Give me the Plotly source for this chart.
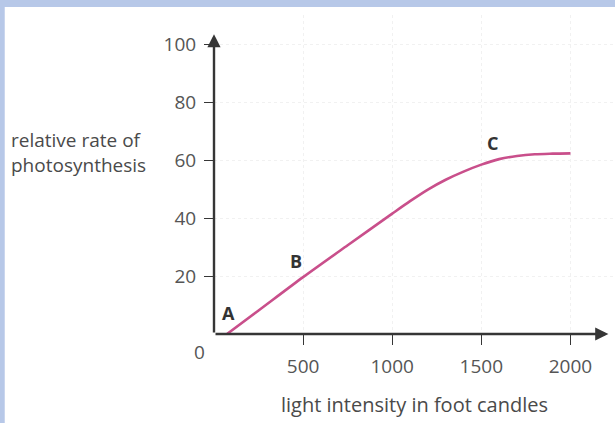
import plotly.graph_objects as go

# data
light = [73, 250, 500, 750, 1000, 1100, 1200, 1300, 1400, 1500, 1600, 1700, 1800, 1900, 2000]
rate = [0, 8.1, 19.6, 30.6, 41.5, 45.8, 49.8, 53.2, 56.0, 58.4, 60.3, 61.4, 62.0, 62.2, 62.3]
x_ticks = [500, 1000, 1500, 2000]
y_ticks = [20, 40, 60, 80, 100]
point_labels = ["A", "B", "C"]
point_x = [84, 461, 1562]
point_y = [7.2, 25.2, 65.9]

ink = "#363636"
txt = "#4a4a4a"
font = "Open Sans"

fig = go.Figure()
fig.add_trace(go.Scatter(x=light, y=rate, mode="lines",
                         line=dict(color="#c94f8b", width=2.6, shape="spline", smoothing=0.8),
                         hoverinfo="skip", showlegend=False))

for t, px, py in zip(point_labels, point_x, point_y):
    fig.add_annotation(x=px, y=py, text="<b>%s</b>" % t, showarrow=False,
                       font=dict(family=font, size=18, color="#333"))

# axes with arrow heads
fig.add_annotation(x=2213, y=0, ax=0, ay=0, axref="x", ayref="y", xref="x", yref="y",
                   text="", showarrow=True, arrowhead=2, arrowsize=1.1, arrowwidth=2.4, arrowcolor=ink)
fig.add_annotation(x=0, y=103.4, ax=0, ay=0, axref="x", ayref="y", xref="x", yref="y",
                   text="", showarrow=True, arrowhead=2, arrowsize=1.1, arrowwidth=2.4, arrowcolor=ink)

# origin label (paper coords: plot is 400.5 px wide, 319 px tall, origin at px (214, 334))
fig.add_annotation(x=(200 - 214) / 400.5, y=(334 - 352) / 319.0, xref="paper", yref="paper",
                   xanchor="center", yanchor="middle",
                   text="0", showarrow=False, font=dict(family=font, size=19, color="#555"))

# y title
fig.add_annotation(xref="paper", yref="y", x=-0.51, y=62.5, xanchor="left", yanchor="middle",
                   align="left", text="relative rate of<br>photosynthesis", showarrow=False,
                   font=dict(family=font, size=19, color=txt))

# blue frame (top and left)
fig.add_shape(type="rect", xref="paper", yref="paper", x0=-0.56, x1=1.05,
              y0=(334 - 7) / 319.0, y1=1.2,
              fillcolor="#b7c8e8", line=dict(width=0), layer="below")
fig.add_shape(type="rect", xref="paper", yref="paper", x0=-0.56, x1=(5 - 214) / 400.5, y0=-0.4, y1=1.2,
              fillcolor="#b7c8e8", line=dict(width=0), layer="below")

fig.update_xaxes(range=[0, 2250], tickvals=x_ticks, ticks="outside", ticklen=10, tickwidth=1.3,
                 tickcolor=ink, showline=False,
                 showgrid=True, gridcolor="#f1f1f1", griddash="dot", zeroline=False,
                 tickfont=dict(family=font, size=19, color="#555"), ticklabelstandoff=5,
                 title=dict(text="light intensity in foot candles", standoff=20,
                            font=dict(family=font, size=20, color=txt)),
                 fixedrange=True)
fig.update_yaxes(range=[0, 110], tickvals=y_ticks, ticks="outside", ticklen=9, tickwidth=1.3,
                 tickcolor=ink, showline=False,
                 showgrid=True, gridcolor="#f1f1f1", griddash="dot", zeroline=False,
                 tickfont=dict(family=font, size=19, color="#555"), ticklabelstandoff=4,
                 fixedrange=True)

fig.update_layout(width=615, height=423, margin=dict(l=214, r=0, t=15, b=89),
                  paper_bgcolor="white", plot_bgcolor="white")

fig.write_html("out.html", post_script="document.body.style.margin='0';",
               config={"displayModeBar": False})
